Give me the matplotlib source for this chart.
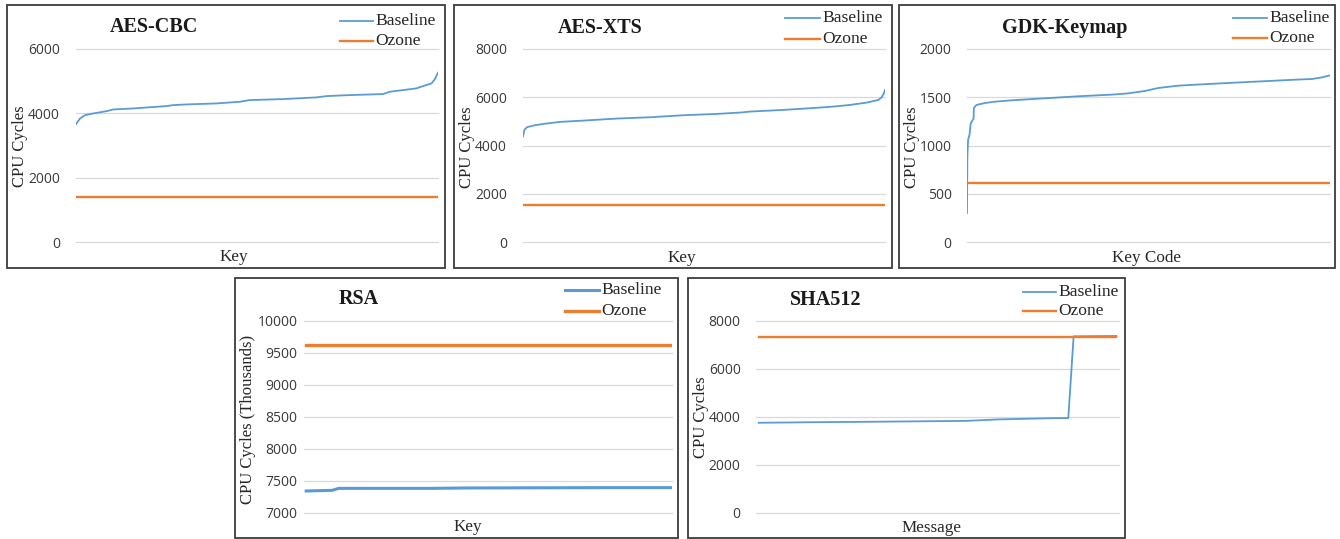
import matplotlib
matplotlib.use("Agg")
import matplotlib.pyplot as plt
from matplotlib.lines import Line2D
from matplotlib.patches import Rectangle

W, H = 1340, 539
BLUE = "#5B9BD5"
ORANGE = "#ED7D31"
GRID = "#D9D9D9"
FRAME = "#3C3C3C"
SERIF = ["Liberation Serif", "DejaVu Serif"]
SANS = ["Open Sans", "DejaVu Sans"]

# ---------------- data ----------------
titles = ["AES-CBC", "AES-XTS", "GDK-Keymap", "RSA", "SHA512"]
xlabels = ["Key", "Key", "Key Code", "Key", "Message"]
ylabels = ["CPU Cycles", "CPU Cycles", "CPU Cycles", "CPU Cycles (Thousands)", "CPU Cycles"]
series_names = ["Baseline", "Ozone"]

# AES-CBC (key rank out of 1000)
cbc_rank = [0, 11, 25, 48, 85, 103, 158, 250, 269, 305, 388, 453, 480, 572, 664,
            692, 756, 848, 867, 940, 959, 982, 991, 997, 1000]
cbc_baseline = [3664, 3840, 3945, 3997, 4069, 4121, 4152, 4225, 4256, 4277, 4308,
                4360, 4412, 4443, 4495, 4536, 4567, 4599, 4671, 4775, 4848, 4930,
                5055, 5200, 5263]
cbc_ozone = 1400

# AES-XTS
xts_rank = [0, 4, 11, 29, 57, 103, 168, 260, 352, 444, 536, 600, 628, 720, 794,
            858, 904, 950, 982, 991, 997, 1000]
xts_baseline = [4372, 4648, 4759, 4828, 4897, 4979, 5034, 5117, 5172, 5255, 5310,
                5366, 5407, 5476, 5545, 5614, 5683, 5779, 5890, 6000, 6166, 6303]
xts_ozone = 1530

# GDK-Keymap
gdk_rank = [0, 1, 3, 7, 10, 15, 18, 19, 26, 49, 76, 122, 214, 306, 398, 444, 490,
            527, 582, 628, 720, 812, 904, 950, 978, 1000]
gdk_baseline = [300, 888, 1060, 1112, 1226, 1261, 1275, 1389, 1420, 1440, 1454,
                1468, 1489, 1510, 1527, 1540, 1565, 1596, 1620, 1630, 1648, 1665,
                1682, 1689, 1706, 1727]
gdk_ozone = 611

# RSA (thousands of cycles)
rsa_rank = [0, 71, 80, 89, 343, 435, 798, 1000]
rsa_baseline = [7344, 7354, 7370, 7385, 7385, 7391, 7396, 7396]
rsa_ozone = 9620

# SHA512 (68 messages)
sha_baseline = [3760, 3762, 3764, 3766, 3768, 3770, 3772, 3775, 3778, 3780,
                3782, 3784, 3786, 3788, 3790, 3792, 3793, 3794, 3796, 3798,
                3800, 3802, 3804, 3806, 3808, 3810, 3812, 3814, 3816, 3818,
                3820, 3822, 3824, 3826, 3828, 3830, 3832, 3834, 3836, 3840,
                3850, 3860, 3870, 3880, 3890, 3900, 3905, 3910, 3915, 3920,
                3925, 3930, 3935, 3940, 3945, 3950, 3952, 3955, 3958,
                7360, 7362, 7364, 7366, 7368, 7370, 7372, 7374, 7375]
sha_ozone = 7319

yticks_list = [[0, 2000, 4000, 6000],
               [0, 2000, 4000, 6000, 8000],
               [0, 500, 1000, 1500, 2000],
               [7000, 7500, 8000, 8500, 9000, 9500, 10000],
               [0, 2000, 4000, 6000, 8000]]

# ---------------- layout (pixels) ----------------
fig = plt.figure(figsize=(W / 100, H / 100), dpi=100)
fig.patch.set_facecolor("white")


def fx(x):
    return x / W


def fy(y):
    return 1 - y / H


def frame(x0, y0, x1, y1):
    fig.add_artist(Rectangle((fx(x0), fy(y1)), fx(x1) - fx(x0), fy(y0) - fy(y1),
                             transform=fig.transFigure, fill=False,
                             edgecolor=FRAME, lw=1.3, clip_on=False))


def axes_px(x0, y0, x1, y1):
    return fig.add_axes([fx(x0), fy(y1), fx(x1) - fx(x0), fy(y0) - fy(y1)])


frames = [(7, 5, 445, 268), (454, 5, 892, 268), (899, 5, 1335, 268),
          (235, 278, 678, 538), (688, 278, 1125, 538)]
plot_areas = [(76, 49, 438, 242), (523, 49, 885, 242), (967, 49, 1330, 242),
              (304, 321, 672, 513), (756, 321, 1119, 513)]
title_pos = [(154, 27), (600, 28), (1065, 28), (359, 299), (826, 300)]
ylabel_pos = [(20, 146), (467, 147), (912, 147), (248, 419), (701, 417)]
xlabel_pos = [(234, 257), (682, 258), (1147, 258), (468, 527), (932, 528)]
legend_pos = [(340, 373, 21, 41), (785, 820, 18, 39), (1233, 1267, 18, 38),
              (565, 599, 290, 311), (1023, 1056, 292, 311)]
tick_pads = [11.5, 11.5, 11, 4.5, 11]

for f in frames:
    frame(*f)

axs = [axes_px(*p) for p in plot_areas]

lw_blue = [1.3, 1.3, 1.3, 2.2, 1.3]
lw_orange = [1.7, 1.7, 1.7, 2.4, 1.7]

# draw data
axs[0].plot(cbc_rank, cbc_baseline, color=BLUE, lw=lw_blue[0])
axs[0].plot([0, 1000], [cbc_ozone, cbc_ozone], color=ORANGE, lw=lw_orange[0])
axs[0].set_xlim(0, 1000)
axs[0].set_ylim(0, 6000)

axs[1].plot(xts_rank, xts_baseline, color=BLUE, lw=lw_blue[1])
axs[1].plot([0, 1000], [xts_ozone, xts_ozone], color=ORANGE, lw=lw_orange[1])
axs[1].set_xlim(0, 1000)
axs[1].set_ylim(0, 8000)

axs[2].plot(gdk_rank, gdk_baseline, color=BLUE, lw=lw_blue[2])
axs[2].plot([0, 1000], [gdk_ozone, gdk_ozone], color=ORANGE, lw=lw_orange[2])
axs[2].set_xlim(0, 1000)
axs[2].set_ylim(0, 2000)

axs[3].plot(rsa_rank, rsa_baseline, color=BLUE, lw=lw_blue[3])
axs[3].plot([0, 1000], [rsa_ozone, rsa_ozone], color=ORANGE, lw=lw_orange[3])
axs[3].set_xlim(-6, 1000)
axs[3].set_ylim(7000, 10000)

sha_x = list(range(len(sha_baseline)))
axs[4].plot(sha_x, sha_baseline, color=BLUE, lw=lw_blue[4])
axs[4].plot([sha_x[0], sha_x[-1]], [sha_ozone, sha_ozone], color=ORANGE, lw=lw_orange[4])
axs[4].set_xlim(-0.5, len(sha_baseline) - 0.5)
axs[4].set_ylim(0, 8000)

for i, ax in enumerate(axs):
    ax.set_facecolor("none")
    for s in ax.spines.values():
        s.set_visible(False)
    ax.set_xticks([])
    ax.set_yticks(yticks_list[i])
    ax.set_yticklabels([str(t) for t in yticks_list[i]], fontfamily=SANS,
                       fontsize=10, color="#3a3a3a")
    ax.tick_params(axis="y", length=0, pad=tick_pads[i])
    for t in yticks_list[i]:
        ax.axhline(t, color=GRID, lw=0.9, zorder=0, clip_on=False)

    tx, ty = title_pos[i]
    fig.text(fx(tx), fy(ty), titles[i], ha="center", va="center",
             fontfamily=SERIF, fontweight="bold", fontsize=14.5, color="#1a1a1a")
    lx, ly = ylabel_pos[i]
    fig.text(fx(lx), fy(ly), ylabels[i], ha="center", va="center", rotation=90,
             fontfamily=SERIF, fontsize=12, color="#262626")
    xx, xy = xlabel_pos[i]
    fig.text(fx(xx), fy(xy), xlabels[i], ha="center", va="center",
             fontfamily=SERIF, fontsize=12.3, color="#262626")

    x0, x1, y_b, y_o = legend_pos[i]
    for yy, col, lw, name in [(y_b, BLUE, lw_blue[i], series_names[0]),
                              (y_o, ORANGE, lw_orange[i], series_names[1])]:
        fig.add_artist(Line2D([fx(x0), fx(x1)], [fy(yy), fy(yy)], color=col, lw=lw,
                              transform=fig.transFigure))
        fig.text(fx(x1 + 2), fy(yy), name, ha="left", va="center",
                 fontfamily=SERIF, fontsize=12.6, color="#262626")

fig.savefig("out.png", dpi=100, facecolor="white")
